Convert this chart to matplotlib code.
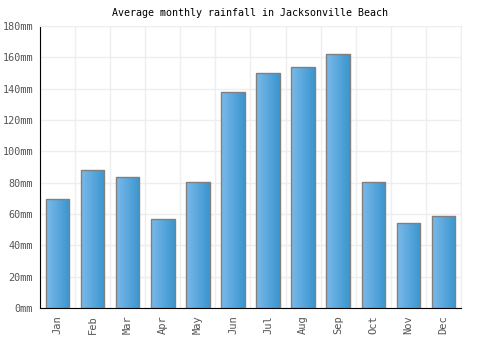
import numpy as np
import matplotlib
matplotlib.use('Agg')
import matplotlib.pyplot as plt
from matplotlib.colors import LinearSegmentedColormap

# Data
months = ['Jan', 'Feb', 'Mar', 'Apr', 'May', 'Jun', 'Jul', 'Aug', 'Sep', 'Oct', 'Nov', 'Dec']
rainfall = [69.5, 88, 83.5, 57, 80.3, 137.8, 150, 153.8, 162, 80.3, 54.2, 58.7]
yticks = [0, 20, 40, 60, 80, 100, 120, 140, 160, 180]

fig = plt.figure(figsize=(5, 3.5), dpi=100)
ax = fig.add_axes([0.08, 0.12, 0.842, 0.806])

font = 'DejaVu Sans Mono'
x = np.arange(len(months))
width = 0.67

# Light-to-dark horizontal gradient for each bar
cmap = LinearSegmentedColormap.from_list('bar', ['#7ab9ea', '#3a96cf'])
grad = np.linspace(0, 1, 64).reshape(1, -1)

bars = ax.bar(x, rainfall, width=width, color='none', edgecolor='#808080', linewidth=1, zorder=3)
for b in bars:
    bx, by = b.get_x(), b.get_y()
    bw, bh = b.get_width(), b.get_height()
    im = ax.imshow(grad, cmap=cmap, aspect='auto', extent=[bx, bx + bw, by, by + bh],
                   zorder=2, interpolation='bilinear')
    im.set_clip_path(b)

ax.set_xlim(-0.5, len(months) - 0.5)
ax.set_ylim(0, 180)

ax.set_yticks(yticks)
ax.set_yticklabels([f'{v}mm' for v in yticks], fontsize=7.3, color='#555555', fontfamily=font)
ax.set_xticks(x)
ax.set_xticklabels(months, rotation=90, fontsize=7.5, color='#555555', fontfamily=font)
ax.tick_params(length=0, pad=5)

# Grid lines between categories and at each y tick
ax.set_xticks(np.arange(len(months) + 1) - 0.5, minor=True)
ax.tick_params(which='minor', length=0)
ax.grid(True, which='minor', axis='x', color='#eeeeee', linewidth=1, zorder=0)
ax.grid(True, which='major', axis='y', color='#eeeeee', linewidth=1, zorder=0)

for side in ['top', 'right']:
    ax.spines[side].set_color('#eeeeee')
ax.spines['left'].set_color('black')
ax.spines['bottom'].set_color('black')

ax.set_title('Average monthly rainfall in Jacksonville Beach', fontsize=7.2,
             fontfamily=font, pad=7)

fig.savefig('out.png', dpi=100)
